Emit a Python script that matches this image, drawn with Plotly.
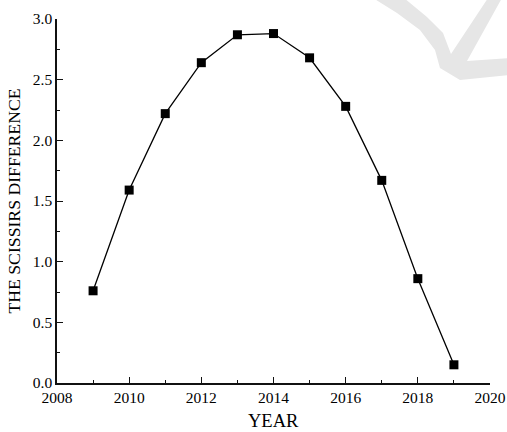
import plotly.graph_objects as go

# Scissors difference by year
years = [2009, 2010, 2011, 2012, 2013, 2014, 2015, 2016, 2017, 2018, 2019]
scissors_diff = [0.76, 1.59, 2.22, 2.64, 2.87, 2.88, 2.68, 2.28, 1.67, 0.86, 0.15]

x_ticks = [2008, 2010, 2012, 2014, 2016, 2018, 2020]
y_ticks = [0.0, 0.5, 1.0, 1.5, 2.0, 2.5, 3.0]

FONT = "Liberation Serif, Times New Roman, serif"

fig = go.Figure()
fig.add_trace(go.Scatter(
    x=years, y=scissors_diff,
    mode="lines+markers",
    line=dict(color="black", width=1.3),
    marker=dict(symbol="square", size=9, color="black"),
    showlegend=False,
))

# Background emblem in the upper right corner (pixel coords -> paper coords)
L, R, T, B = 57, 490, 19, 383
W, H = R - L, B - T
pts = [(373, -2), (404, -2), (427, 17), (443, 33), (451, 54),
       (488, -2), (502, -2), (467, 61), (509, 58), (509, 75),
       (460, 80), (440, 68), (435, 50), (420, 30), (397, 13)]
path = "M " + " L ".join(f"{(px - L) / W:.4f},{(B - py) / H:.4f}" for px, py in pts) + " Z"
fig.add_shape(type="path", path=path, xref="paper", yref="paper",
              fillcolor="#e6e6e6", line=dict(width=0), layer="below")

axis_common = dict(
    showline=True, linecolor="#111111", linewidth=1.5,
    ticks="inside", ticklen=6, tickwidth=1.3, tickcolor="#111111",
    showgrid=False, zeroline=False, mirror=False, automargin=False,
    tickfont=dict(family=FONT, size=15.5, color="black"),
)

fig.update_xaxes(
    range=[2008, 2020], tickvals=x_ticks,
    minor=dict(ticks="inside", ticklen=3, dtick=1, tick0=2008, tickcolor="#111111", showgrid=False),
    **axis_common,
)
fig.update_yaxes(
    range=[0, 3.0], tickvals=y_ticks, tickformat=".1f",
    minor=dict(ticks="inside", ticklen=3, dtick=0.25, tick0=0, tickcolor="#111111", showgrid=False),
    title=dict(text="THE SCISSIRS DIFFERENCE", font=dict(family=FONT, size=17.7, color="black"), standoff=8),
    **axis_common,
)

# x-axis title sits low at the page edge
fig.add_annotation(
    text="YEAR", xref="paper", yref="paper",
    x=0.5, y=(B - 421) / H, xanchor="center", yanchor="middle",
    showarrow=False, font=dict(family=FONT, size=18.5, color="black"),
)

fig.update_layout(
    width=507, height=432,
    margin=dict(l=57, r=17, t=19, b=49),
    paper_bgcolor="white", plot_bgcolor="white",
)

fig.write_html("out.html")
